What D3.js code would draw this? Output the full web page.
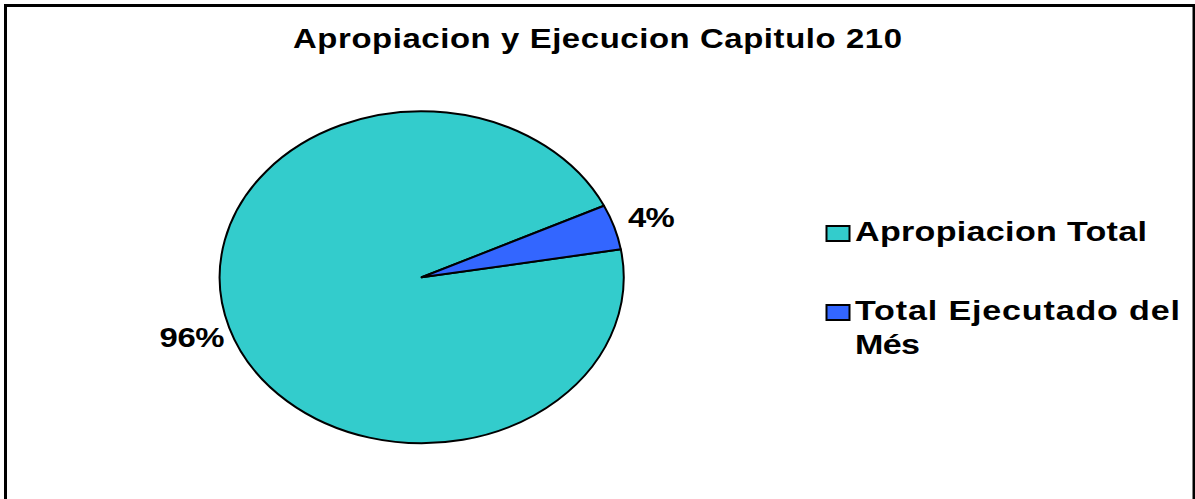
<!DOCTYPE html>
<html>
<head>
<meta charset="utf-8">
<script src="https://cdn.jsdelivr.net/npm/d3@7"></script>
<style>
  html, body { margin: 0; padding: 0; background: #fff; }
  svg { display: block; }
  text { font-family: Arial, "Liberation Sans", sans-serif; font-weight: bold; fill: #000; }
</style>
</head>
<body>
<script>

// chart data
let title = 'Apropiacion y Ejecucion Capitulo 210';
let categories = ['Apropiacion Total', 'Total Ejecutado del Més'];
let values = [95.6, 4.4];
let colors = ['#33CCCC', '#3366FF'];

let width = 1195,
    height = 499,
    sx = 1.217; // the whole picture is stretched sideways

let svg = d3.select('body')
    .append('svg')
    .attr('width', width)
    .attr('height', height);

// outer frame
svg.append('rect')
    .attr('x', 5.5)
    .attr('y', 5.5)
    .attr('width', 1188.5)
    .attr('height', 540)
    .attr('fill', 'none')
    .attr('stroke', '#000')
    .attr('stroke-width', 3);

let g = svg.append('g')
    .attr('transform', 'scale(' + sx + ',1)');

// title
g.append('text')
    .attr('x', 597.5 / sx)
    .attr('y', 48.3)
    .attr('text-anchor', 'middle')
    .attr('font-size', 27)
    .attr('textLength', 609 / sx)
    .attr('lengthAdjust', 'spacing')
    .text(title);

// pie
let cx = 421.7 / sx,
    cy = 277.3,
    r = 166,
    start = 80.3 * Math.PI / 180;

let pie = d3.pie()
    .sort(null)
    .startAngle(start)
    .endAngle(start + 2 * Math.PI);

let arcs = pie(values);

let arc = d3.arc()
    .innerRadius(0)
    .outerRadius(r);

let label_arc = d3.arc()
    .innerRadius(r + 32)
    .outerRadius(r + 32);

let pg = g.append('g')
    .attr('transform', 'translate(' + cx + ',' + cy + ')');

pg.selectAll('path')
    .data(arcs)
    .enter()
    .append('path')
    .attr('d', arc)
    .attr('fill', (d, i) => colors[i])
    .attr('stroke', '#000')
    .attr('stroke-width', 2)
    .attr('vector-effect', 'non-scaling-stroke')
    .attr('stroke-linejoin', 'round');

let total = d3.sum(values),
    label_widths = [65 / sx, 46.7 / sx];

pg.selectAll('text.pct')
    .data(arcs)
    .enter()
    .append('text')
    .attr('class', 'pct')
    .attr('x', d => label_arc.centroid(d)[0])
    .attr('y', d => label_arc.centroid(d)[1] + 10)
    .attr('text-anchor', 'middle')
    .attr('font-size', 27)
    .attr('textLength', (d, i) => label_widths[i])
    .attr('lengthAdjust', 'spacing')
    .text(d => Math.round(d.value / total * 100) + '%');

// legend
let legend_lines = [['Apropiacion Total'], ['Total Ejecutado del', 'Més']],
    legend_widths = [[292, 0], [325, 65]],
    legend_y = [241.5, 320.5];

let lg = g.append('g');

legend_lines.forEach(function (lines, i) {

    lg.append('rect')
        .attr('x', 826.5 / sx)
        .attr('y', legend_y[i] - 15.5)
        .attr('width', 23 / sx)
        .attr('height', 15)
        .attr('fill', colors[i])
        .attr('stroke', '#000')
        .attr('stroke-width', 2)
        .attr('vector-effect', 'non-scaling-stroke');

    lines.forEach(function (line, j) {
        lg.append('text')
            .attr('x', 855 / sx)
            .attr('y', legend_y[i] + j * 34)
            .attr('font-size', 28)
            .attr('textLength', legend_widths[i][j] / sx)
            .attr('lengthAdjust', 'spacing')
            .text(line);
    });

});

</script>
</body>
</html>
